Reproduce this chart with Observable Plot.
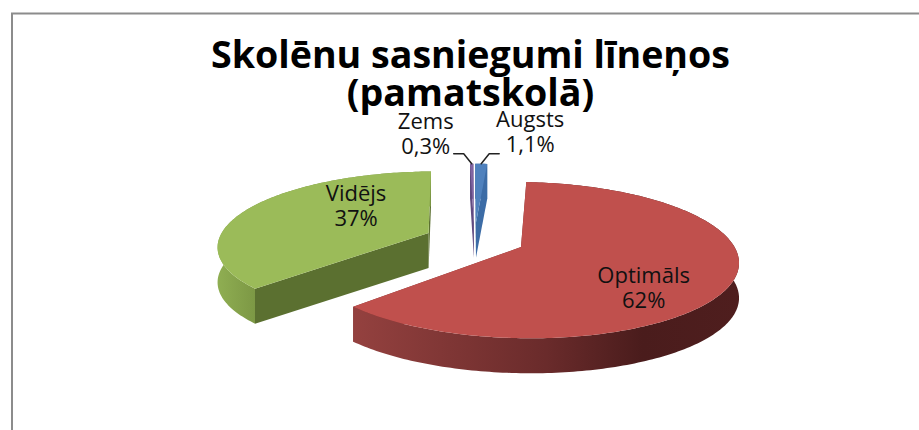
<!DOCTYPE html>
<html><head><meta charset="utf-8">
<style>html,body{margin:0;padding:0;background:#fff}svg{display:block}</style>
<script src="https://cdn.jsdelivr.net/npm/d3@7"></script>
<script src="https://cdn.jsdelivr.net/npm/@observablehq/plot@0.6"></script>
</head><body><div id="c"></div>
<script>
const categories = ["Augsts", "Optimāls", "Vidējs", "Zems"];
const values = [1.1, 62, 37, 0.3];
const valueLabels = ["1,1%", "62%", "37%", "0,3%"];
const topColors = ["#4F81BD", "#C0504D", "#9BBB59", "#8064A2"];
const innerColors = ["#3c6ca6", "#7d3331", "#5b7030", "#604a80"];
const outerFills = ["#3c6ca6", "url(#redWall)", "url(#greenWall)", "#604a80"];
const title = ["Skolēnu sasniegumi līneņos", "(pamatskolā)"];

// 3D pie geometry (plane units: pie radius = 1)
const W = 919, H = 430, cx = 474, cy = 239, Rx = 210, Ry = 73.5;
const persp = 0.164, explode = 0.24, depth = 35 / Ry, firstAngle = -0.2 * Math.PI / 180;
const px = v => v / Rx, py = v => v / Ry;
const total = d3.sum(values);
let acc = firstAngle;
const slices = categories.map((name, i) => {
  const a0 = acc, a1 = acc + values[i] / total * 2 * Math.PI; acc = a1;
  const mid = (a0 + a1) / 2;
  return {name, i, a0, a1, mid, ox: explode * Math.sin(mid), oy: explode * Math.cos(mid)};
});
const proj = (s, a, r, drop = 0) => {
  const X = s.ox + r * Math.sin(a), Y = s.oy + r * Math.cos(a), k = 1 / (1 + persp * Y);
  return {x: X * k, y: Y * k - drop};
};
const arcAngles = s => { const n = Math.max(2, Math.ceil((s.a1 - s.a0) * 180 / Math.PI)); return d3.range(n + 1).map(j => s.a0 + (s.a1 - s.a0) * j / n); };
const topPoly = s => [proj(s, 0, 0), ...arcAngles(s).map(a => proj(s, a, 1))];
const radialWall = (s, a) => [proj(s, a, 0), proj(s, a, 1), proj(s, a, 1, depth), proj(s, a, 0, depth)];
const arcWall = s => { const an = arcAngles(s); return [...an.map(a => proj(s, a, 1)), ...an.slice().reverse().map(a => proj(s, a, 1, depth))]; };

const defs = () => d3.create("svg:defs").html(`
  <linearGradient id="redWall" x1="0" x2="1" y1="0" y2="0">
    <stop offset="0" stop-color="#94413f"/><stop offset="0.5" stop-color="#6a2b2b"/>
    <stop offset="0.75" stop-color="#4a1c1c"/><stop offset="1" stop-color="#4f1e1e"/>
  </linearGradient>
  <linearGradient id="greenWall" x1="0" x2="1" y1="0" y2="0">
    <stop offset="0" stop-color="#8fae52"/><stop offset="0.2" stop-color="#7a9543"/><stop offset="1" stop-color="#7a9543"/>
  </linearGradient>`).node();

const marks = [defs];
// chart frame
marks.push(Plot.ruleX([px(11.5 - cx)], {y1: py(cy - 13), y2: py(cy - H), stroke: "#8c8c8c", strokeWidth: 2}));
marks.push(Plot.ruleY([py(cy - 13)], {x1: px(11 - cx), x2: px(W - cx), stroke: "#8c8c8c", strokeWidth: 2}));
const poly = (pts, fill) => Plot.line(pts, {x: "x", y: "y", fill, stroke: "none", curve: "linear-closed"});
for (const name of ["Vidējs", "Zems", "Augsts", "Optimāls"]) {
  const s = slices.find(d => d.name === name);
  for (const a of [s.a0, s.a1]) marks.push(poly(radialWall(s, a), innerColors[s.i]));
  marks.push(poly(arcWall(s), outerFills[s.i]));
  marks.push(poly(topPoly(s), topColors[s.i]));
}
// leader lines
const leader = (s, dir) => {
  const p = proj(s, s.mid, 1);
  return [p, {x: p.x + dir * px(8), y: p.y + py(10)}, {x: p.x + dir * px(18), y: p.y + py(10)}];
};
marks.push(Plot.line(leader(slices[3], -1), {x: "x", y: "y", stroke: "#222", strokeWidth: 1.5}));
marks.push(Plot.line(leader(slices[0], 1), {x: "x", y: "y", stroke: "#222", strokeWidth: 1.5}));
// labels
const labelOffset = {"Augsts": [49, 32], "Optimāls": [-5, -20], "Vidējs": [47, 10], "Zems": [-46, 30]};
const labelRows = slices.map(s => {
  const r = s.name === "Optimāls" ? 0.62 : s.name === "Vidējs" ? 0.66 : 1;
  const p = proj(s, s.mid, r), o = labelOffset[s.name];
  return {x: p.x + px(o[0]), y: p.y + py(o[1]), text: s.name + "\n" + valueLabels[s.i]};
});
marks.push(Plot.text(labelRows, {x: "x", y: "y", text: "text", fontSize: 22, fill: "#111", lineHeight: 1.1, fontFamily: "Open Sans"}));
marks.push(Plot.text([title.join("\n")], {x: px(470 - cx), y: py(cy - 74), text: d => d, fontSize: 37.6, fontWeight: 700, fill: "#000", lineHeight: 1.03, fontFamily: "Open Sans"}));

document.getElementById("c").append(Plot.plot({
  width: W, height: H, margin: 0, style: {background: "#fff"},
  x: {domain: [-1, 1], range: [cx - Rx, cx + Rx], axis: null},
  y: {domain: [-1, 1], range: [cy + Ry, cy - Ry], axis: null},
  marks
}));
</script></body></html>
